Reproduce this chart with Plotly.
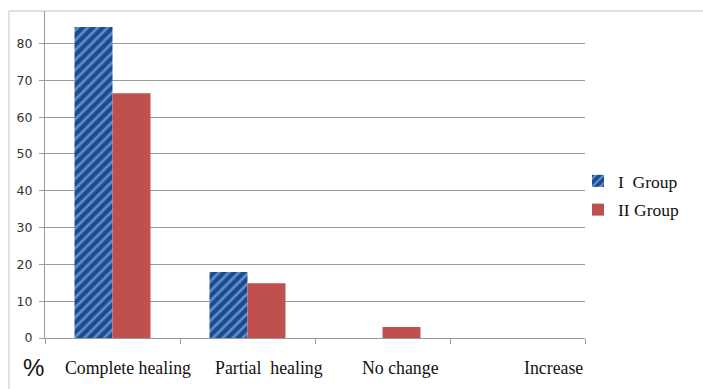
import plotly.graph_objects as go

# Outcome categories and percentage of patients per group
categories = ["Complete healing", "Partial\u00a0 healing", "No change", "Increase"]
group_names = ["I\u00a0 Group", "II Group"]
group1 = [84.5, 17.9, 0, 0]
group2 = [66.5, 14.9, 3.0, 0]
y_ticks = [0, 10, 20, 30, 40, 50, 60, 70, 80]

# horizontal nudges for the category captions under the axis (px)
label_shift = [15, 21, 18, 36]

W, H = 703, 389
ml, mr, mt, mb = 45, 118, 11, 51
pw = W - ml - mr
ph = H - mt - mb

grid_col = "#9a9a9a"
serif = "Liberation Serif"

fig = go.Figure()
fig.add_trace(go.Bar(
    x=categories, y=group1, name=group_names[0], legendgroup="g1",
    marker=dict(color="#1f4a87", line=dict(width=0),
                pattern=dict(shape="/", fillmode="replace", bgcolor="#1f4a87",
                             fgcolor="#5b8ed6", size=7, solidity=0.38)),
))
fig.add_trace(go.Bar(
    x=categories, y=group2, name=group_names[1], legendgroup="g2",
    marker=dict(color="#c0504d", line=dict(width=0)),
))

# category captions
for cat, dx in zip(categories, label_shift):
    fig.add_annotation(x=cat, y=0, xref="x", yref="y", text=cat, showarrow=False,
                       xanchor="center", yanchor="middle", xshift=dx, yshift=-30,
                       font=dict(family=serif, size=17.8, color="#111111"))

# unit marker at the lower left
fig.add_annotation(x=(33 - ml) / pw, y=(H - mb - 368) / ph, xref="paper", yref="paper",
                   text="%", showarrow=False, xanchor="center", yanchor="middle",
                   font=dict(family="Liberation Sans", size=24, color="#111111"))

# outer chart frame (top and left edges visible)
fig.add_shape(type="rect", xref="paper", yref="paper",
              x0=(9 - ml) / pw, x1=(720 - ml) / pw, y0=-0.4, y1=1.0,
              line=dict(color="#c4c4c4", width=1), fillcolor="rgba(0,0,0,0)", layer="below")

fig.update_layout(
    width=W, height=H,
    margin=dict(l=ml, r=mr, t=mt, b=mb, autoexpand=False),
    paper_bgcolor="white", plot_bgcolor="white",
    barmode="group", bargap=0.437, bargroupgap=0,
    showlegend=True,
    legend=dict(x=(578 - ml) / pw, y=(H - mb - 163) / ph, xanchor="left", yanchor="top",
                font=dict(family=serif, size=17.5, color="#111111"),
                traceorder="grouped", tracegroupgap=3,
                bgcolor="rgba(0,0,0,0)", itemwidth=30),
    xaxis=dict(type="category", range=[-0.5, 3.5], showticklabels=False,
               showline=True, linecolor=grid_col, linewidth=1,
               ticks="outside", ticklen=5, tickcolor=grid_col, tickson="boundaries",
               showgrid=False, zeroline=False, fixedrange=True),
    yaxis=dict(range=[0, (338 - mt) / 36.81 * 10], tickvals=y_ticks,
               showline=True, linecolor=grid_col, linewidth=1,
               ticks="outside", ticklen=5, tickcolor=grid_col,
               showgrid=True, gridcolor=grid_col, gridwidth=1, zeroline=False,
               tickfont=dict(family="DejaVu Sans", size=12.5, color="#333333"),
               ticklabelstandoff=4, fixedrange=True),
)

fig.write_html("out.html")
